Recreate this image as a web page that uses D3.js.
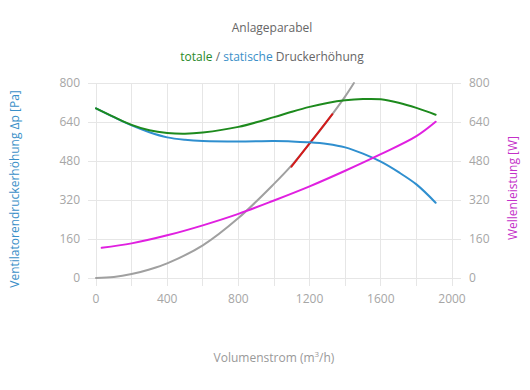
<!DOCTYPE html>
<html><head><meta charset="utf-8">
<script src="https://cdn.jsdelivr.net/npm/d3@7"></script>
<style>
body{margin:0;background:#fff;}
text{font-family:"Open Sans","Noto Sans",sans-serif;}
</style></head>
<body><svg id="c" width="530" height="390"></svg>
<script>
// Data (Q in m³/h)
const staticQ   = [0,100,200,300,400,500,600,800,1000,1100,1200,1300,1400,1500,1600,1700,1800,1908];
const staticP   = [696,660,626,598,577,567,562,560,562,560,557,550,536,510,477,434,384,309];
const totalQ    = [0,100,200,300,400,500,600,800,1000,1100,1200,1300,1400,1500,1600,1700,1800,1908];
const totalP    = [696,661,628,606,595,592,597,620,660,682,702,718,729,734,733,719,698,670];
const powerQ    = [32,200,400,600,800,1000,1200,1400,1600,1800,1908];
const powerW    = [124,142,175,216,263,318,376,440,508,582,641];
const systemQ   = [0,100,200,300,400,600,800,1000,1100,1200,1300,1400,1449];
const systemP   = [0,4,16,35,60,134,246,386,463,552,645,745,800];
const opQ       = [1098,1200,1328];
const opP       = [457,552,672];
const yTicks    = [0,160,320,480,640,800];
const xTicks    = [0,400,800,1200,1600,2000];
const xGrid     = [0,200,400,600,800,1000,1200,1400,1600,1800,2000];

const svg = d3.select("#c");
const x = d3.scaleLinear().domain([0,2000]).range([96,452]);
const yL = d3.scaleLinear().domain([0,800]).range([278,83]);
const yR = d3.scaleLinear().domain([0,800]).range([278,83]);

const grid = svg.append("g");
grid.selectAll("line.h").data(yTicks).join("line")
  .attr("x1",88).attr("x2",461).attr("y1",d=>yL(d)).attr("y2",d=>yL(d))
  .attr("stroke","#e6e6e6").attr("stroke-width",1).attr("shape-rendering","crispEdges");
grid.selectAll("line.v").data(xGrid).join("line")
  .attr("y1",83).attr("y2",286).attr("x1",d=>x(d)).attr("x2",d=>x(d))
  .attr("stroke","#e6e6e6").attr("stroke-width",1).attr("shape-rendering","crispEdges");

const tc = "#a6a6a6";
svg.append("g").selectAll("text").data(yTicks).join("text")
  .attr("x",80).attr("y",d=>yL(d)+4).attr("text-anchor","end")
  .attr("font-size",12).attr("fill",tc).text(d=>d);
svg.append("g").selectAll("text").data(yTicks).join("text")
  .attr("x",469).attr("y",d=>yR(d)+4).attr("text-anchor","start")
  .attr("font-size",12).attr("fill",tc).text(d=>d);
svg.append("g").selectAll("text").data(xTicks).join("text")
  .attr("x",d=>x(d)).attr("y",303).attr("text-anchor","middle")
  .attr("font-size",12).attr("fill",tc).text(d=>d);

function draw(qs, vs, scale, color, w){
  const pts = qs.map((q,i)=>[q,vs[i]]);
  svg.append("path").datum(pts)
    .attr("d", d3.line().x(d=>x(d[0])).y(d=>scale(d[1])).curve(d3.curveCatmullRom.alpha(0.5)))
    .attr("fill","none").attr("stroke",color).attr("stroke-width",w)
    .attr("stroke-linejoin","round").attr("stroke-linecap","round");
}
draw(systemQ, systemP, yL, "#a0a0a0", 2);
draw(opQ, opP, yL, "#d41a1a", 2);
draw(staticQ, staticP, yL, "#2f8fcf", 2);
draw(totalQ, totalP, yL, "#1d8a1d", 2);
draw(powerQ, powerW, yR, "#e020e0", 2);

svg.append("text").attr("x",272).attr("y",32).attr("text-anchor","middle")
  .attr("font-size",12).attr("fill","#666").text("Anlageparabel");
const st = svg.append("text").attr("x",272).attr("y",61).attr("text-anchor","middle").attr("font-size",12);
st.append("tspan").attr("fill","#2a8a2a").text("totale");
st.append("tspan").attr("fill","#666").text(" / ");
st.append("tspan").attr("fill","#3a8fc8").text("statische");
st.append("tspan").attr("fill","#666").text(" Druckerhöhung");

svg.append("text").attr("transform","translate(19,189) rotate(-90)").attr("text-anchor","middle")
  .attr("font-size",12).attr("fill","#3a8fc8").text("Ventilatorendruckerhöhung Δp [Pa]");
svg.append("text").attr("transform","translate(517,188) rotate(-90)").attr("text-anchor","middle")
  .attr("font-size",12).attr("fill","#c330c8").text("Wellenleistung [W]");
const xt = svg.append("text").attr("x",274).attr("y",362).attr("text-anchor","middle")
  .attr("font-size",12).attr("fill","#999");
xt.append("tspan").text("Volumenstrom (m");
xt.append("tspan").attr("font-size",8).attr("dy",-5).text("3");
xt.append("tspan").attr("dy",5).text("/h)");
</script></body></html>
